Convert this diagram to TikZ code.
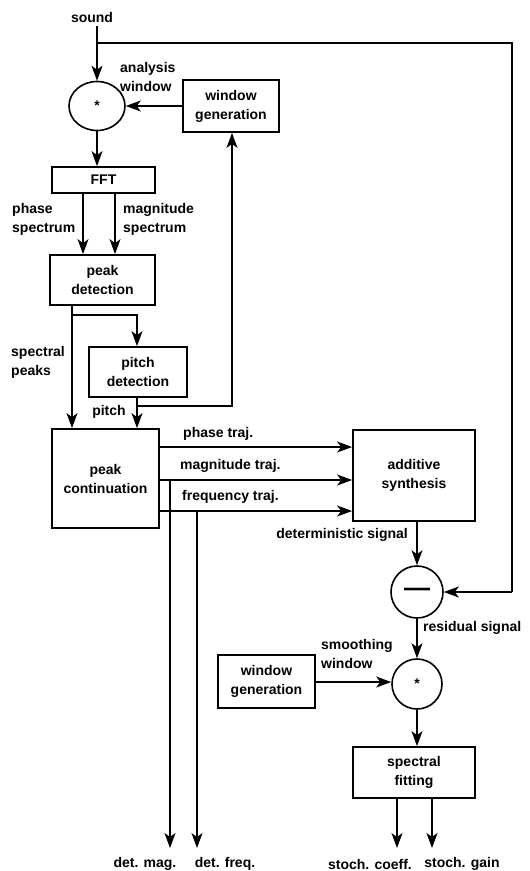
\documentclass[tikz,border=0pt]{standalone}
\usepackage{fontspec}
\setmainfont{Liberation Sans}
\usetikzlibrary{arrows.meta,shapes.geometric}
\begin{document}
\begin{tikzpicture}[x=1pt,y=-1pt,
  every node/.style={font=\fontsize{14}{19}\selectfont\bfseries},
  blk/.style={draw,line width=1.8pt,inner sep=0pt,align=center},
  lbl/.style={inner sep=0pt,align=left},
  con/.style={line width=1.2pt},
  arr/.style={con,-{Stealth[length=15pt,width=11pt,inset=4pt]}},
  op/.style={draw,line width=1.6pt,inner sep=0pt}
  ]
\useasboundingbox (0,0) rectangle (530,871);

% blocks
\node[op,ellipse,minimum width=56pt,minimum height=49pt] (c1) at (97,106) {*};
\node[blk,minimum width=96pt,minimum height=52pt] (wg1) at (231,106) {window\\generation};
\node[blk,minimum width=103pt,minimum height=26pt] (fft) at (103.5,180) {FFT};
\node[blk,minimum width=105pt,minimum height=50pt] (pd) at (102.5,280) {peak\\detection};
\node[blk,minimum width=98pt,minimum height=50pt] (pitch) at (138,372) {pitch\\detection};
\node[blk,minimum width=107pt,minimum height=99pt] (pc) at (105.5,478.5) {peak\\continuation};
\node[blk,minimum width=122pt,minimum height=91pt] (as) at (414,475.5) {additive\\synthesis};
\node[op,circle,minimum size=52pt] (minus) at (417,592) {\fontsize{26}{26}\selectfont —};
\node[op,circle,minimum size=50pt] (c2) at (417,684) {*};
\node[blk,minimum width=97pt,minimum height=53pt] (wg2) at (266.5,681.5) {window\\generation};
\node[blk,minimum width=122pt,minimum height=51pt] (sf) at (414,772.5) {spectral\\fitting};

% labels
\node[lbl] (sound) at (92,17) {sound};
\node[lbl,anchor=west] (lanw) at (120,77) {analysis\\window};
\node[lbl,anchor=west] (lphs) at (12,219) {phase\\spectrum};
\node[lbl,anchor=west] (lmags) at (123,219) {magnitude\\spectrum};
\node[lbl,anchor=west] (lsp) at (11,362) {spectral\\peaks};
\node[lbl] (lpitch) at (109,412) {pitch};
\node[lbl,anchor=west] (lpt) at (183,434) {phase traj.};
\node[lbl,anchor=west] (lmt) at (180,466) {magnitude traj.};
\node[lbl,anchor=west] (lft) at (182,497) {frequency traj.};
\node[lbl,anchor=east] (ldet) at (408,535) {deterministic signal};
\node[lbl,anchor=west] (lres) at (423,628) {residual signal};
\node[lbl,anchor=west] (lsmw) at (321,654) {smoothing\\window};
\node[lbl] (odm) at (145,864) {det. mag.};
\node[lbl] (odf) at (225,864) {det. freq.};
\node[lbl] (osc) at (370,864) {stoch. coeff.};
\node[lbl] (osg) at (462,864) {stoch. gain};

% coordinates
\coordinate (split) at (97,43);
\coordinate (rtop) at (512,43);
\coordinate (rbot) at (512,592);
\coordinate (pdb) at (72,315);
\coordinate (pdr) at (137,315);
\coordinate (pib) at (137,406);
\coordinate (pir) at (232,406);
\coordinate (magb) at (170,480);
\coordinate (frqb) at (197,511);
\coordinate (emag) at (170,848);
\coordinate (efrq) at (197,848);
\coordinate (escoef) at (397,848);
\coordinate (esgain) at (432,848);

% connectors
\draw[arr] (sound.south -| c1) ++(0,4) -- (c1.north);
\draw[con] (split) -- (rtop) -- (rbot);
\draw[arr] (rbot) -- (minus.east);
\draw[arr] (wg1.west |- c1) -- (c1.east);
\draw[arr] (c1.south) -- (c1.south |- fft.north);
\draw[arr] (fft.south -| 83,0) -- (pd.north -| 83,0);
\draw[arr] (fft.south -| 115,0) -- (pd.north -| 115,0);
\draw[arr] (pd.south -| pdb) -- (pc.north -| pdb);
\draw[arr] (pdb) -- (pdr) -- (pitch.north -| pdr);
\draw[arr] (pitch.south -| pib) -- (pc.north -| pib);
\draw[arr] (pib) -- (pir) -- (wg1.south -| pir);
\draw[arr] (pc.east |- 0,447) -- (as.west |- 0,447);
\draw[arr] (pc.east |- magb) -- (as.west |- magb);
\draw[arr] (pc.east |- frqb) -- (as.west |- frqb);
\draw[arr] (magb) -- (emag);
\draw[arr] (frqb) -- (efrq);
\draw[arr] (as.south -| minus) -- (minus.north);
\draw[arr] (minus.south) -- (c2.north);
\draw[arr] (wg2.east |- 0,682) -- (c2.west |- 0,682);
\draw[arr] (c2.south) -- (sf.north -| c2);
\draw[arr] (sf.south -| escoef) -- (escoef);
\draw[arr] (sf.south -| esgain) -- (esgain);
\end{tikzpicture}
\end{document}
